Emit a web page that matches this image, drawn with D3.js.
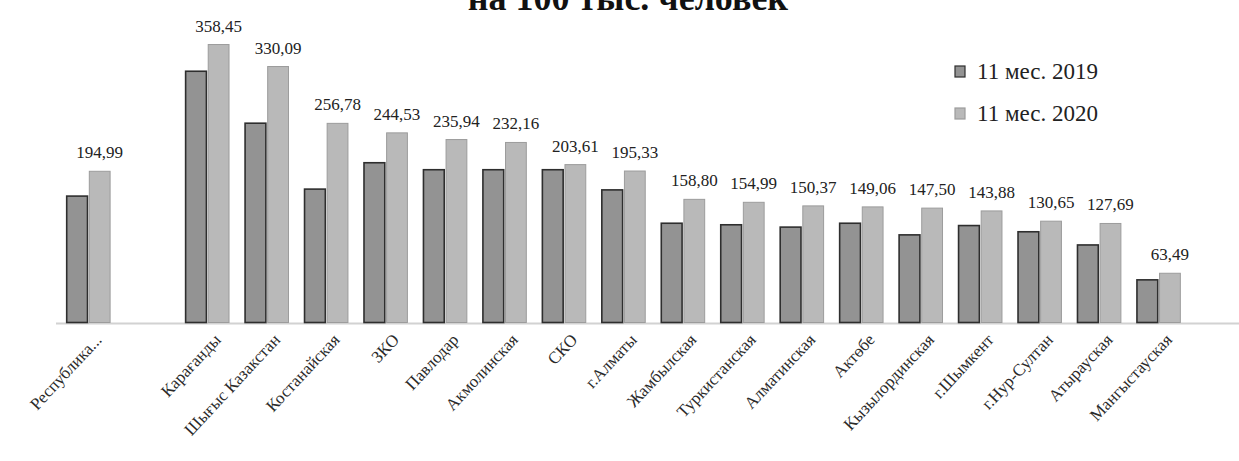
<!DOCTYPE html>
<html>
<head>
<meta charset="utf-8">
<script src="https://cdn.jsdelivr.net/npm/d3@7/dist/d3.min.js"></script>
<style>
  html, body { margin: 0; padding: 0; background: #fff; }
  svg { display: block; }
</style>
</head>
<body>
<svg id="chart" width="1239" height="461"></svg>
<script>
// Regions, in chart order
const categories = [
  "Республика...", "Карағанды", "Шығыс Казакстан", "Костанайская", "ЗКО",
  "Павлодар", "Акмолинская", "СКО", "г.Алматы", "Жамбылская", "Туркистанская",
  "Алматинская", "Актөбе", "Кызылординская", "г.Шымкент", "г.Нур-Султан",
  "Атырауская", "Мангыстауская"
];
const seriesNames = ["11 мес. 2019", "11 мес. 2020"];
const values2019 = [163, 324, 257, 172, 206, 197, 197, 197, 171, 128, 126, 123, 128, 113, 125, 117, 100, 55];
const values2020 = [194.99, 358.45, 330.09, 256.78, 244.53, 235.94, 232.16, 203.61, 195.33, 158.80,
                    154.99, 150.37, 149.06, 147.50, 143.88, 130.65, 127.69, 63.49];
const titleText = "на 100 тыс. человек";

const svg = d3.select("#chart");
const W = 1239, H = 461;
const baseY = 322.5;
const serif = "Liberation Serif, Times New Roman, serif";

// The national total stands apart: one empty slot after it
const GAP = "__gap";
const domain = [categories[0], GAP, ...categories.slice(1)];

const x0 = d3.scaleBand().domain(domain).range([50.65, 1196.4])
  .paddingInner(0.27).paddingOuter(0.27);
const x1 = d3.scaleBand().domain(seriesNames).range([0, x0.bandwidth()]).paddingInner(0.08);
const y = d3.scaleLinear().domain([0, 400]).range([baseY, baseY - 310.2]);

const fills = ["#939393", "#b9b9b9"];
const strokes = ["#2e2e2e", "#9c9c9c"];

const rows = categories.map((c, i) => ({ cat: c, vals: [values2019[i], values2020[i]] }));

// Title (lower line of the heading, running off the top edge)
svg.append("text")
  .attr("x", 628).attr("y", 10)
  .attr("text-anchor", "middle")
  .attr("font-family", serif)
  .attr("font-weight", "bold")
  .attr("font-size", 36)
  .attr("fill", "#111")
  .text(titleText);

// Baseline
svg.append("line")
  .attr("x1", 56).attr("x2", W)
  .attr("y1", baseY + 1).attr("y2", baseY + 1)
  .attr("stroke", "#d2d2d2").attr("stroke-width", 2);

// Bars
const groups = svg.append("g").selectAll("g").data(rows).join("g")
  .attr("transform", d => `translate(${x0(d.cat)},0)`);

groups.selectAll("rect")
  .data(d => d.vals.map((v, k) => ({ v, k })))
  .join("rect")
  .attr("x", d => x1(seriesNames[d.k]))
  .attr("width", x1.bandwidth())
  .attr("y", d => y(d.v))
  .attr("height", d => baseY - y(d.v))
  .attr("fill", d => fills[d.k])
  .attr("stroke", d => strokes[d.k])
  .attr("stroke-width", d => d.k === 0 ? 1.6 : 1);

// Value labels above the 2020 bars
const fmt = v => d3.format(".2f")(v).replace(".", ",");
groups.append("text")
  .attr("x", x1(seriesNames[1]) + x1.bandwidth() / 2)
  .attr("y", d => y(d.vals[1]) - 13)
  .attr("text-anchor", "middle")
  .attr("font-family", serif)
  .attr("font-size", 17)
  .attr("fill", "#222")
  .text(d => fmt(d.vals[1]));

// Category axis with slanted labels
const axis = d3.axisBottom(x0).tickValues(categories).tickSize(0).tickPadding(0);
const ax = svg.append("g").attr("transform", `translate(0,${baseY})`).call(axis);
ax.select(".domain").remove();
ax.selectAll(".tick text")
  .attr("font-family", serif)
  .attr("font-size", 17)
  .attr("fill", "#2a2a2a")
  .attr("text-anchor", "end")
  .attr("dy", "0.35em")
  .attr("transform", "translate(10,14) rotate(-47)");

// Legend
const lg = svg.append("g").attr("transform", "translate(955,0)");
const legendY = [79, 121];
seriesNames.forEach((name, k) => {
  lg.append("rect")
    .attr("x", 0).attr("y", legendY[k] - 13)
    .attr("width", 10).attr("height", 11)
    .attr("fill", fills[k]).attr("stroke", strokes[k]).attr("stroke-width", 1.2);
  lg.append("text")
    .attr("x", 22).attr("y", legendY[k])
    .attr("font-family", serif)
    .attr("font-size", 23)
    .attr("fill", "#222")
    .text(name);
});
</script>
</body>
</html>
